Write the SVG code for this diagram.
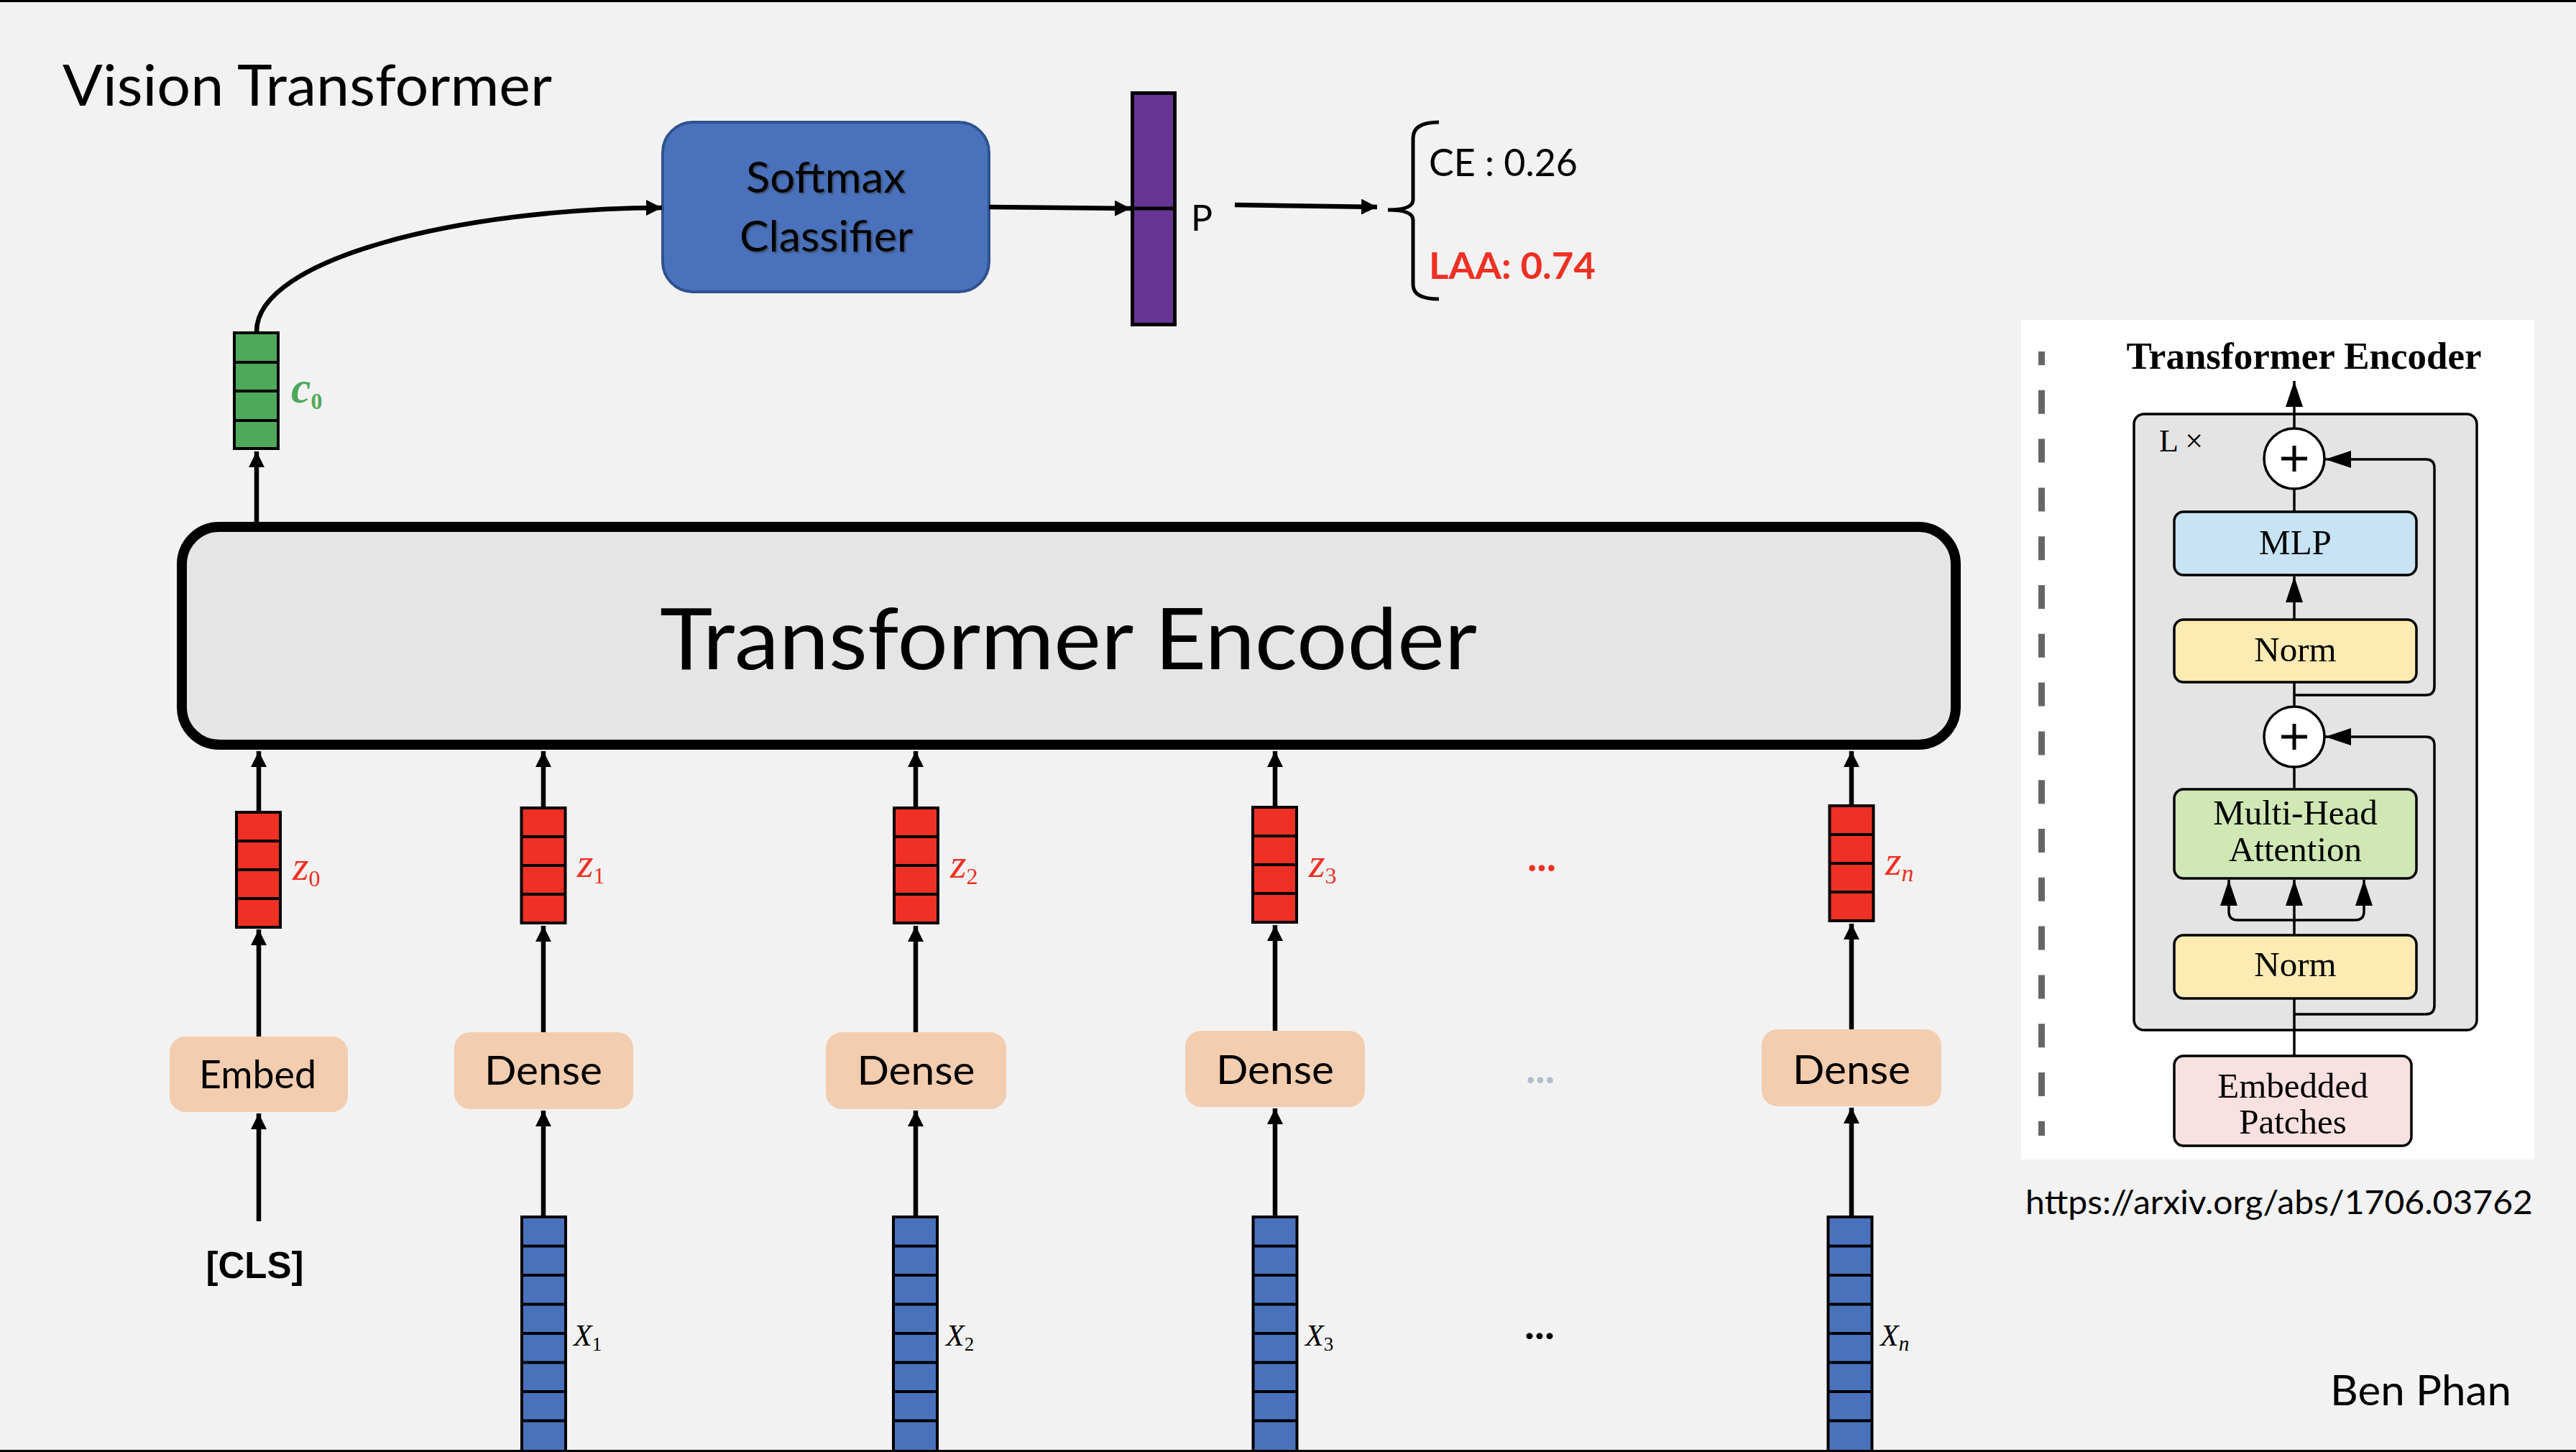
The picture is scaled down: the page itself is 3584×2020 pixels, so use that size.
<svg xmlns="http://www.w3.org/2000/svg" xmlns:xlink="http://www.w3.org/1999/xlink" width="3584" height="2020" viewBox="0 0 3584 2020">
<style>
.sans{font-family:Lato,"Open Sans","Liberation Sans",sans-serif;}
.serif{font-family:"Liberation Serif","Times New Roman",serif;}
.math{font-family:"Liberation Serif","DejaVu Serif",serif;font-style:italic;}
.ar{stroke:#000;stroke-width:6.5;fill:none;marker-end:url(#ah);}
.sl{stroke:#000;stroke-width:3.5;fill:none;}
.sa{stroke:#000;stroke-width:3.5;fill:none;marker-end:url(#sh);}
.vb{fill:#4a72bc;stroke:#000;stroke-width:4;}
.vr{fill:#ee3124;stroke:#000;stroke-width:4;}
.vg{fill:#4fa95b;stroke:#000;stroke-width:4;}
.sep{stroke:#000;stroke-width:4;}
.peach{fill:#f2cdb0;}
.box{stroke:#000;stroke-width:3.5;}
</style>
<defs>
<marker id="ah" markerUnits="userSpaceOnUse" markerWidth="24" markerHeight="24" refX="22" refY="11" orient="auto"><path d="M0,0 L22,11 L0,22 z" fill="#000"/></marker>
<marker id="sh" markerUnits="userSpaceOnUse" markerWidth="38" markerHeight="26" refX="36" refY="12" orient="auto"><path d="M0,0 L36,12 L0,24 z" fill="#000"/></marker>
<filter id="shadow" x="-10%" y="-10%" width="120%" height="130%"><feDropShadow dx="2" dy="2" stdDeviation="1.2" flood-color="#333" flood-opacity="0.55"/></filter>
<g id="vecBlue"><rect class="vb" x="-30.5" y="0" width="61" height="326"/><path class="sep" d="M-30.5,40.5h61M-30.5,81h61M-30.5,121.5h61M-30.5,162h61M-30.5,202.5h61M-30.5,243h61M-30.5,283.5h61"/></g>
<g id="vecRed"><rect class="vr" x="-30.5" y="0" width="61" height="160"/><path class="sep" d="M-30.5,40h61M-30.5,80h61M-30.5,120h61"/></g>
</defs>

<rect x="0" y="0" width="3584" height="2020" fill="#f2f2f2"/>
<rect x="0" y="0" width="3584" height="3" fill="#000"/>
<rect x="0" y="2017" width="3584" height="3" fill="#000"/>

<g id="title"><text class="sans" x="87" y="147" font-size="80" textLength="681" lengthAdjust="spacingAndGlyphs">Vision Transformer</text></g>

<g id="softmax">
<rect x="922" y="170" width="454" height="236" rx="42" fill="#4a72bc" stroke="#2f528f" stroke-width="4"/>
<g filter="url(#shadow)">
<text class="sans" x="1149" y="268" font-size="60" text-anchor="middle" textLength="222" lengthAdjust="spacingAndGlyphs">Softmax</text>
<text class="sans" x="1149.5" y="350" font-size="60" text-anchor="middle" textLength="241" lengthAdjust="spacingAndGlyphs">Classifier</text>
</g>
</g>

<g id="p-vector">
<rect x="1575.5" y="129.5" width="59" height="322" fill="#673695" stroke="#000" stroke-width="5"/>
<line x1="1575.5" y1="290" x2="1634.5" y2="290" stroke="#000" stroke-width="5"/>
<text class="sans" x="1657" y="321" font-size="50">P</text>
</g>

<g id="losses">
<path d="M2002,170 Q1966,170 1966,192 L1966,278 Q1966,292 1931,292 Q1966,292 1966,306 L1966,396 Q1966,416 2002,416" fill="none" stroke="#000" stroke-width="5"/>
<text class="sans" x="1988" y="245" font-size="52" textLength="207" lengthAdjust="spacingAndGlyphs">CE : 0.26</text>
<text class="sans" x="1988" y="388" font-size="52" font-weight="bold" fill="#ee3124" textLength="232" lengthAdjust="spacingAndGlyphs">LAA: 0.74</text>
</g>

<g id="c0">
<rect class="vg" x="326" y="463" width="61" height="161"/>
<path class="sep" d="M326,504h61M326,544h61M326,585h61"/>
<text class="math" x="405" y="560" font-size="62" font-weight="bold" fill="#4fa95b">c<tspan font-size="32" dy="9" font-style="normal">0</tspan></text>
</g>

<g id="encoder">
<rect x="253" y="733" width="2468" height="303" rx="52" fill="#e5e5e5" stroke="#000" stroke-width="14"/>
<text class="sans" x="1486.5" y="931" font-size="118" text-anchor="middle" textLength="1137" lengthAdjust="spacingAndGlyphs">Transformer Encoder</text>
</g>

<g id="z0">
<use xlink:href="#vecRed" href="#vecRed" transform="translate(359.5,1130)"/>
<text class="math" x="407" y="1224" font-size="58" fill="#ee3124">z<tspan font-size="32" dy="9" font-style="normal">0</tspan></text>
</g>
<g id="z1">
<use xlink:href="#vecRed" href="#vecRed" transform="translate(756,1124)"/>
<text class="math" x="803" y="1220" font-size="58" fill="#ee3124">z<tspan font-size="32" dy="9" font-style="normal">1</tspan></text>
</g>
<g id="z2">
<use xlink:href="#vecRed" href="#vecRed" transform="translate(1274.5,1124)"/>
<text class="math" x="1322" y="1221" font-size="58" fill="#ee3124">z<tspan font-size="32" dy="9" font-style="normal">2</tspan></text>
</g>
<g id="z3">
<use xlink:href="#vecRed" href="#vecRed" transform="translate(1773.5,1123)"/>
<text class="math" x="1821" y="1220" font-size="58" fill="#ee3124">z<tspan font-size="32" dy="9" font-style="normal">3</tspan></text>
</g>
<g id="zn">
<use xlink:href="#vecRed" href="#vecRed" transform="translate(2576,1121)"/>
<text class="math" x="2623" y="1217" font-size="58" fill="#ee3124">z<tspan font-size="34" dy="9">n</tspan></text>
</g>
<g id="dots-red"><text class="sans" x="2125" y="1212" font-size="58" font-weight="bold" fill="#ee3124" textLength="40" lengthAdjust="spacingAndGlyphs">...</text></g>

<g id="embed">
<rect class="peach" x="236" y="1442" width="248" height="105" rx="22"/>
<text class="sans" x="358.5" y="1514" font-size="54" text-anchor="middle" textLength="163" lengthAdjust="spacingAndGlyphs">Embed</text>
</g>
<g id="dense1">
<rect class="peach" x="632" y="1436" width="249" height="107" rx="22"/>
<text class="sans" x="756" y="1509" font-size="57" text-anchor="middle" textLength="164" lengthAdjust="spacingAndGlyphs">Dense</text>
</g>
<g id="dense2">
<rect class="peach" x="1149" y="1436" width="251" height="107" rx="22"/>
<text class="sans" x="1274.5" y="1509" font-size="57" text-anchor="middle" textLength="164" lengthAdjust="spacingAndGlyphs">Dense</text>
</g>
<g id="dense3">
<rect class="peach" x="1649" y="1434" width="250" height="106" rx="22"/>
<text class="sans" x="1774" y="1508" font-size="57" text-anchor="middle" textLength="164" lengthAdjust="spacingAndGlyphs">Dense</text>
</g>
<g id="densen">
<rect class="peach" x="2451" y="1432" width="250" height="107" rx="22"/>
<text class="sans" x="2576" y="1508" font-size="57" text-anchor="middle" textLength="164" lengthAdjust="spacingAndGlyphs">Dense</text>
</g>
<g id="dots-gray"><text class="sans" x="2123" y="1507" font-size="58" font-weight="bold" fill="#b4bccb" textLength="40" lengthAdjust="spacingAndGlyphs">...</text></g>

<g id="cls"><text x="354.5" y="1778" font-family="'Liberation Sans',Arial,sans-serif" font-size="51" font-weight="bold" text-anchor="middle">[CLS]</text></g>

<g id="x1">
<use xlink:href="#vecBlue" href="#vecBlue" transform="translate(756.5,1693)"/>
<text class="math" x="798" y="1872" font-size="42">X<tspan font-size="27" dy="7" font-style="normal">1</tspan></text>
</g>
<g id="x2">
<use xlink:href="#vecBlue" href="#vecBlue" transform="translate(1273.5,1693)"/>
<text class="math" x="1316" y="1872" font-size="42">X<tspan font-size="27" dy="7" font-style="normal">2</tspan></text>
</g>
<g id="x3">
<use xlink:href="#vecBlue" href="#vecBlue" transform="translate(1774,1693)"/>
<text class="math" x="1816" y="1872" font-size="42">X<tspan font-size="27" dy="7" font-style="normal">3</tspan></text>
</g>
<g id="xn">
<use xlink:href="#vecBlue" href="#vecBlue" transform="translate(2574,1693)"/>
<text class="math" x="2616" y="1872" font-size="42">X<tspan font-size="29" dy="7">n</tspan></text>
</g>
<g id="dots-black"><text class="sans" x="2121" y="1863" font-size="58" font-weight="bold" textLength="42" lengthAdjust="spacingAndGlyphs">...</text></g>

<g id="connectors">
<path class="ar" d="M357,461 C357,360 640,290 921,289"/>
<path class="ar" d="M357,726 L357,628"/>
<path class="ar" d="M1376,288 L1573,290"/>
<path class="ar" d="M1718,285 L1916,288"/>
<path class="ar" d="M360,1128 L360,1045"/>
<path class="ar" d="M360,1442 L360,1293"/>
<path class="ar" d="M360,1699 L360,1549"/>
<path class="ar" d="M756,1691 L756,1545"/>
<path class="ar" d="M756,1436 L756,1288"/>
<path class="ar" d="M756,1122 L756,1045"/>
<path class="ar" d="M1274,1691 L1274,1545"/>
<path class="ar" d="M1274,1436 L1274,1288"/>
<path class="ar" d="M1274,1122 L1274,1045"/>
<path class="ar" d="M1774,1691 L1774,1542"/>
<path class="ar" d="M1774,1434 L1774,1287"/>
<path class="ar" d="M1774,1121 L1774,1045"/>
<path class="ar" d="M2576,1691 L2576,1541"/>
<path class="ar" d="M2576,1432 L2576,1285"/>
<path class="ar" d="M2576,1119 L2576,1045"/>
</g>

<g id="reference-panel">
<rect x="2812" y="445" width="714" height="1168" fill="#ffffff"/>
<line x1="2840.5" y1="489" x2="2840.5" y2="1580" stroke="#666" stroke-width="9" stroke-dasharray="33 34.8" stroke-dashoffset="14"/>
<text class="serif" x="3205.5" y="513" font-size="53" font-weight="bold" text-anchor="middle">Transformer Encoder</text>
<g id="lx-block">
<rect class="box" x="2969" y="576" width="477" height="857" rx="14" fill="#e4e4e4"/>
<text class="serif" x="3004" y="628" font-size="44">L ×</text>
</g>
<g id="panel-connectors">
<path class="sa" d="M3192,596 L3192,530"/>
<path class="sl" d="M3192,712 L3192,680"/>
<path class="sa" d="M3192,862 L3192,802"/>
<path class="sl" d="M3192,983 L3192,949"/>
<path class="sa" d="M3192,967 L3375,967 Q3387,967 3387,955 L3387,651 Q3387,639 3375,639 L3235,639"/>
<path class="sl" d="M3192,1098 L3192,1067"/>
<path class="sa" d="M3192,1301 L3192,1224"/>
<path class="sa" d="M3192,1280 L3113,1280 Q3101,1280 3101,1268 L3101,1224"/>
<path class="sa" d="M3192,1280 L3277,1280 Q3289,1280 3289,1268 L3289,1224"/>
<path class="sl" d="M3192,1469 L3192,1389"/>
<path class="sa" d="M3192,1411 L3375,1411 Q3387,1411 3387,1399 L3387,1037 Q3387,1025 3375,1025 L3235,1025"/>
</g>
<g id="add-top">
<circle class="box" cx="3192" cy="638" r="42" fill="#fff"/>
<path d="M3174,638h36M3192,620v36" stroke="#000" stroke-width="5"/>
</g>
<g id="mlp">
<rect class="box" x="3025" y="712" width="337" height="88" rx="13" fill="#c7e3f4"/>
<text class="serif" x="3193.5" y="771" font-size="49" text-anchor="middle">MLP</text>
</g>
<g id="norm-top">
<rect class="box" x="3025" y="862" width="337" height="87" rx="13" fill="#feebb3"/>
<text class="serif" x="3193.5" y="920" font-size="49" text-anchor="middle">Norm</text>
</g>
<g id="add-bottom">
<circle class="box" cx="3192" cy="1025" r="42" fill="#fff"/>
<path d="M3174,1025h36M3192,1007v36" stroke="#000" stroke-width="5"/>
</g>
<g id="mha">
<rect class="box" x="3025" y="1098" width="337" height="124" rx="13" fill="#d0e7b6"/>
<text class="serif" x="3193.5" y="1147" font-size="49" text-anchor="middle">Multi-Head</text>
<text class="serif" x="3193.5" y="1198" font-size="49" text-anchor="middle">Attention</text>
</g>
<g id="norm-bottom">
<rect class="box" x="3025" y="1301" width="337" height="88" rx="13" fill="#feebb3"/>
<text class="serif" x="3193.5" y="1358" font-size="49" text-anchor="middle">Norm</text>
</g>
<g id="embedded-patches">
<rect class="box" x="3025" y="1469" width="330" height="125" rx="13" fill="#f8e1e0"/>
<text class="serif" x="3190" y="1527" font-size="49" text-anchor="middle">Embedded</text>
<text class="serif" x="3190" y="1577" font-size="49" text-anchor="middle">Patches</text>
</g>
</g>

<g id="url"><text class="sans" x="2818" y="1689" font-size="47" textLength="706" lengthAdjust="spacingAndGlyphs">https://arxiv.org/abs/1706.03762</text></g>
<g id="author"><text class="sans" x="3242" y="1955" font-size="58" textLength="252" lengthAdjust="spacingAndGlyphs">Ben Phan</text></g>
</svg>
